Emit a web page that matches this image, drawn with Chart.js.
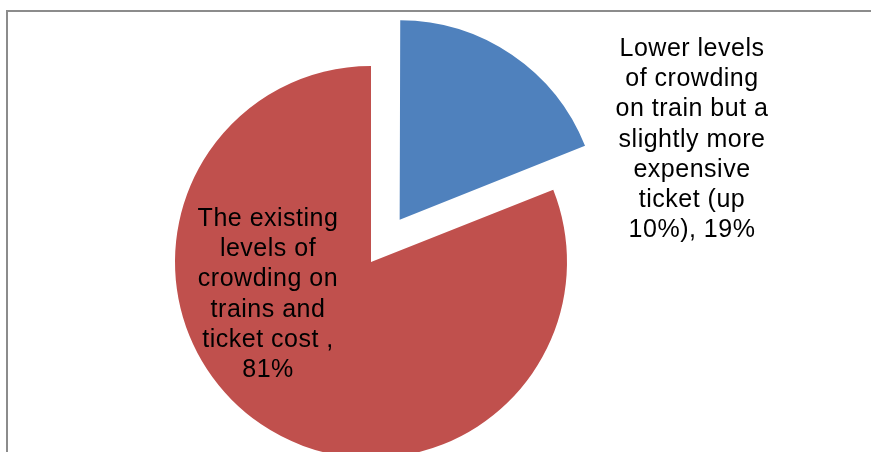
<!DOCTYPE html>
<html>
<head>
<meta charset="utf-8">
<script src="https://cdn.jsdelivr.net/npm/chart.js@4.4.1/dist/chart.umd.min.js"></script>
<style>
  html, body { margin: 0; padding: 0; background: #fff; overflow: hidden; }
  #frame {
    position: absolute; left: 0; top: 0; width: 871px; height: 452px; overflow: hidden;
  }
  #box {
    position: absolute; left: 6px; top: 10px; width: 900px; height: 500px;
    border-top: 2px solid #8c8c8c; border-left: 2px solid #8c8c8c;
  }
  #pie { position: absolute; left: 0; top: 0; }
</style>
</head>
<body>
<div id="frame">
  <div id="box"></div>
  <canvas id="pie" width="871" height="524"></canvas>
</div>
<script>
// survey answers, share of respondents in percent
const categories = [
  "Lower levels of crowding on train but a slightly more expensive ticket (up 10%)",
  "The existing levels of crowding on trains and ticket cost "
];
const shares = [19, 81];
// label text broken into lines as it appears on the slide
const labelLines = [
  ["Lower levels", "of crowding", "on train but a", "slightly more", "expensive", "ticket (up", "10%), 19%"],
  ["The existing", "levels of", "crowding on", "trains and", "ticket cost ,", "81%"]
];
const sliceColors = ["#4F81BD", "#C0504D"];

// where each label block sits, relative to the pie centre
const labelAnchor = [
  { dx: 321, dy: -206 },
  { dx: -103, dy: -36 }
];

// plugin that writes the multi-line category labels
const pieLabels = {
  id: "pieLabels",
  afterDatasetsDraw(chart) {
    const ctx = chart.ctx;
    const arcs = chart.getDatasetMeta(0).data;
    const cx = arcs[1].x, cy = arcs[1].y;
    ctx.save();
    ctx.fillStyle = "#000";
    ctx.font = "25px 'Liberation Sans', Arial, sans-serif";
    ctx.letterSpacing = "0.5px";
    ctx.textAlign = "center";
    ctx.textBaseline = "alphabetic";
    labelLines.forEach((lines, i) => {
      lines.forEach((line, j) => {
        ctx.fillText(line, cx + labelAnchor[i].dx, cy + labelAnchor[i].dy + j * 30.2);
      });
    });
    ctx.restore();
  }
};

// arc offset is divided by 4 when drawn, so 204 pulls the slice out ~51px
let myChart = new Chart(document.getElementById("pie"), {
  type: "pie",
  plugins: [pieLabels],
  data: {
    labels: categories,
    datasets: [
      {
        data: shares,
        backgroundColor: sliceColors,
        borderWidth: 0,
        offset: [204, 0],
      },
    ],
  },
  options: {
    responsive: false,
    animation: false,
    radius: 196,
    layout: { padding: { left: 0, right: 129, top: 0, bottom: 0 } },
    plugins: {
      legend: { display: false },
      tooltip: { enabled: false },
    },
  },
});
</script>
</body>
</html>
